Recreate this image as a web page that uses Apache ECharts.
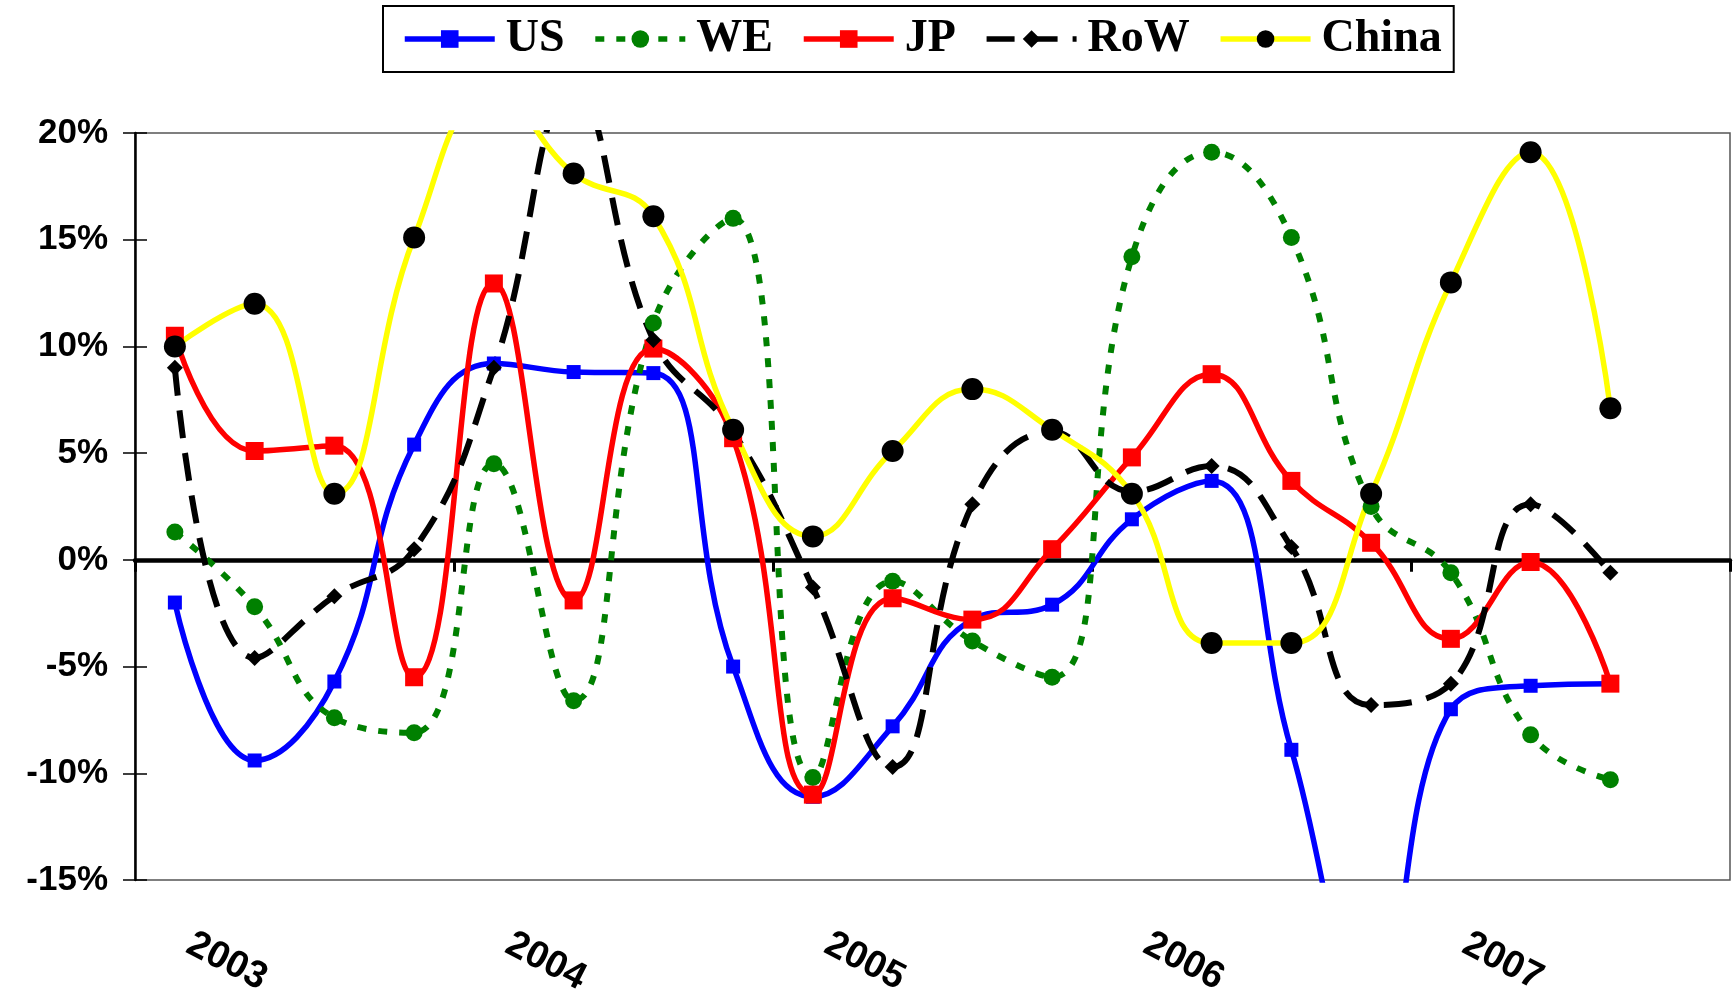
<!DOCTYPE html>
<html>
<head>
<meta charset="utf-8">
<script src="https://cdn.jsdelivr.net/npm/echarts@6/dist/echarts.min.js"></script>
<style>
  html, body { margin: 0; padding: 0; background: #fff; }
  #chart { width: 1736px; height: 1001px; }
</style>
</head>
<body>
<div id="chart"></div>
<script>
// Quarterly growth by region, 2003 Q1 – 2007 Q4 (last quarter not yet reported)
const quarters = [
  '2003 Q1', '2003 Q2', '2003 Q3', '2003 Q4',
  '2004 Q1', '2004 Q2', '2004 Q3', '2004 Q4',
  '2005 Q1', '2005 Q2', '2005 Q3', '2005 Q4',
  '2006 Q1', '2006 Q2', '2006 Q3', '2006 Q4',
  '2007 Q1', '2007 Q2', '2007 Q3', '2007 Q4'
];

const usValues    = [-2.0, -9.4, -5.7, 5.4, 9.2, 8.8, 8.75, -5.0, -11.1, -7.8, -2.8, -2.1, 1.9, 3.7, -8.9, -21.5, -7.0, -5.9, -5.8, null];
const weValues    = [1.3, -2.2, -7.4, -8.1, 4.5, -6.6, 11.1, 16.0, -10.2, -1.0, -3.8, -5.5, 14.2, 19.1, 15.1, 2.5, -0.6, -8.2, -10.3, null];
const jpValues    = [10.5, 5.1, 5.35, -5.5, 12.95, -1.9, 9.9, 5.7, -11.0, -1.8, -2.8, 0.5, 4.8, 8.7, 3.7, 0.8, -3.7, -0.1, -5.8, null];
const rowValues   = [9.0, -4.6, -1.7, 0.5, 9.0, 22.0, 10.3, 6.0, -1.3, -9.7, 2.6, 6.0, 3.2, 4.4, 0.6, -6.8, -5.8, 2.6, -0.6, null];
const chinaValues = [10.0, 12.0, 3.1, 15.1, 22.0, 18.1, 16.1, 6.1, 1.1, 5.1, 8.0, 6.1, 3.1, -3.9, -3.9, 3.1, 13.0, 19.1, 7.1, null];

const yMin = -15, yMax = 20, yStep = 5;

const labelFont = { fontFamily: 'Liberation Sans, Arial, sans-serif', fontWeight: 'bold', fontSize: 35, color: '#000' };

function lineSeries(name, data, color, markColor, width, dash, symbol, size) {
  return {
    name: name,
    type: 'line',
    data: data,
    xAxisIndex: 0,
    yAxisIndex: 0,
    smooth: 0.45,
    clip: true,
    showAllSymbol: true,
    symbol: symbol,
    symbolSize: size,
    lineStyle: { color: color, width: width, type: dash, cap: 'butt' },
    itemStyle: { color: markColor, borderWidth: 0 },
    emphasis: { disabled: true }
  };
}

const chart = echarts.init(document.getElementById('chart'), null, { renderer: 'canvas' });

chart.setOption({
  animation: false,
  backgroundColor: '#fff',
  legend: {
    left: 383,
    top: 6,
    padding: [7, 12, 7, 19],
    itemGap: 28,
    itemWidth: 90,
    itemHeight: 22,
    borderColor: '#000',
    borderWidth: 2,
    selectedMode: false,
    lineStyle: { width: 5.5 },
    textStyle: {
      fontFamily: 'Liberation Serif, Times New Roman, serif',
      fontWeight: 'bold',
      fontSize: 46,
      lineHeight: 52,
      color: '#000',
      padding: [0, 0, 0, 6]
    },
    data: ['US', 'WE', 'JP', 'RoW', 'China']
  },
  grid: {
    left: 135,
    right: 6,
    top: 133,
    bottom: 121,
    show: true,
    borderColor: '#555',
    borderWidth: 1.5,
    backgroundColor: 'transparent'
  },
  xAxis: [
    {
      // zero line with year ticks
      type: 'category',
      data: quarters,
      boundaryGap: true,
      position: 'bottom',
      axisLine: { onZero: true, lineStyle: { color: '#000', width: 4.5 } },
      axisTick: { show: true, interval: 3, length: 12, lineStyle: { color: '#000', width: 3 } },
      axisLabel: { show: false },
      splitLine: { show: false }
    },
    {
      // year labels below the plot
      type: 'category',
      data: quarters,
      boundaryGap: true,
      position: 'bottom',
      axisLine: { show: false, onZero: false },
      axisTick: { show: false },
      splitLine: { show: false },
      axisLabel: Object.assign({
        interval: 3,
        rotate: -27,
        margin: 55,
        padding: [0, 0, 0, 16],
        formatter: function (v) { return v.slice(0, 4); }
      }, labelFont, { fontSize: 38 })
    }
  ],
  yAxis: [
    {
      type: 'value',
      min: yMin,
      max: yMax,
      interval: yStep,
      position: 'left',
      axisLine: { show: true, onZero: false, lineStyle: { color: '#000', width: 2.5 } },
      axisTick: { show: true, length: 12, lineStyle: { color: '#000', width: 1.5 } },
      splitLine: { show: false },
      axisLabel: Object.assign({
        margin: 27,
        formatter: '{value}%'
      }, labelFont)
    },
    {
      // inner half of the crossing tick marks
      type: 'value',
      min: yMin,
      max: yMax,
      interval: yStep,
      position: 'left',
      axisLine: { show: false, onZero: false },
      axisTick: { show: true, inside: true, length: 12, lineStyle: { color: '#000', width: 1.5 } },
      splitLine: { show: false },
      axisLabel: { show: false }
    }
  ],
  series: [
    lineSeries('US', usValues, '#0000ff', '#0000ff', 5.5, 'solid', 'rect', 14),
    lineSeries('WE', weValues, '#008000', '#008000', 6, [9, 12], 'circle', 17),
    lineSeries('JP', jpValues, '#ff0000', '#ff0000', 5.5, 'solid', 'rect', 18),
    lineSeries('RoW', rowValues, '#000000', '#000000', 6, [28, 15], 'diamond', 16),
    lineSeries('China', chinaValues, '#ffff00', '#000000', 5.5, 'solid', 'circle', 22)
  ]
});
</script>
</body>
</html>
